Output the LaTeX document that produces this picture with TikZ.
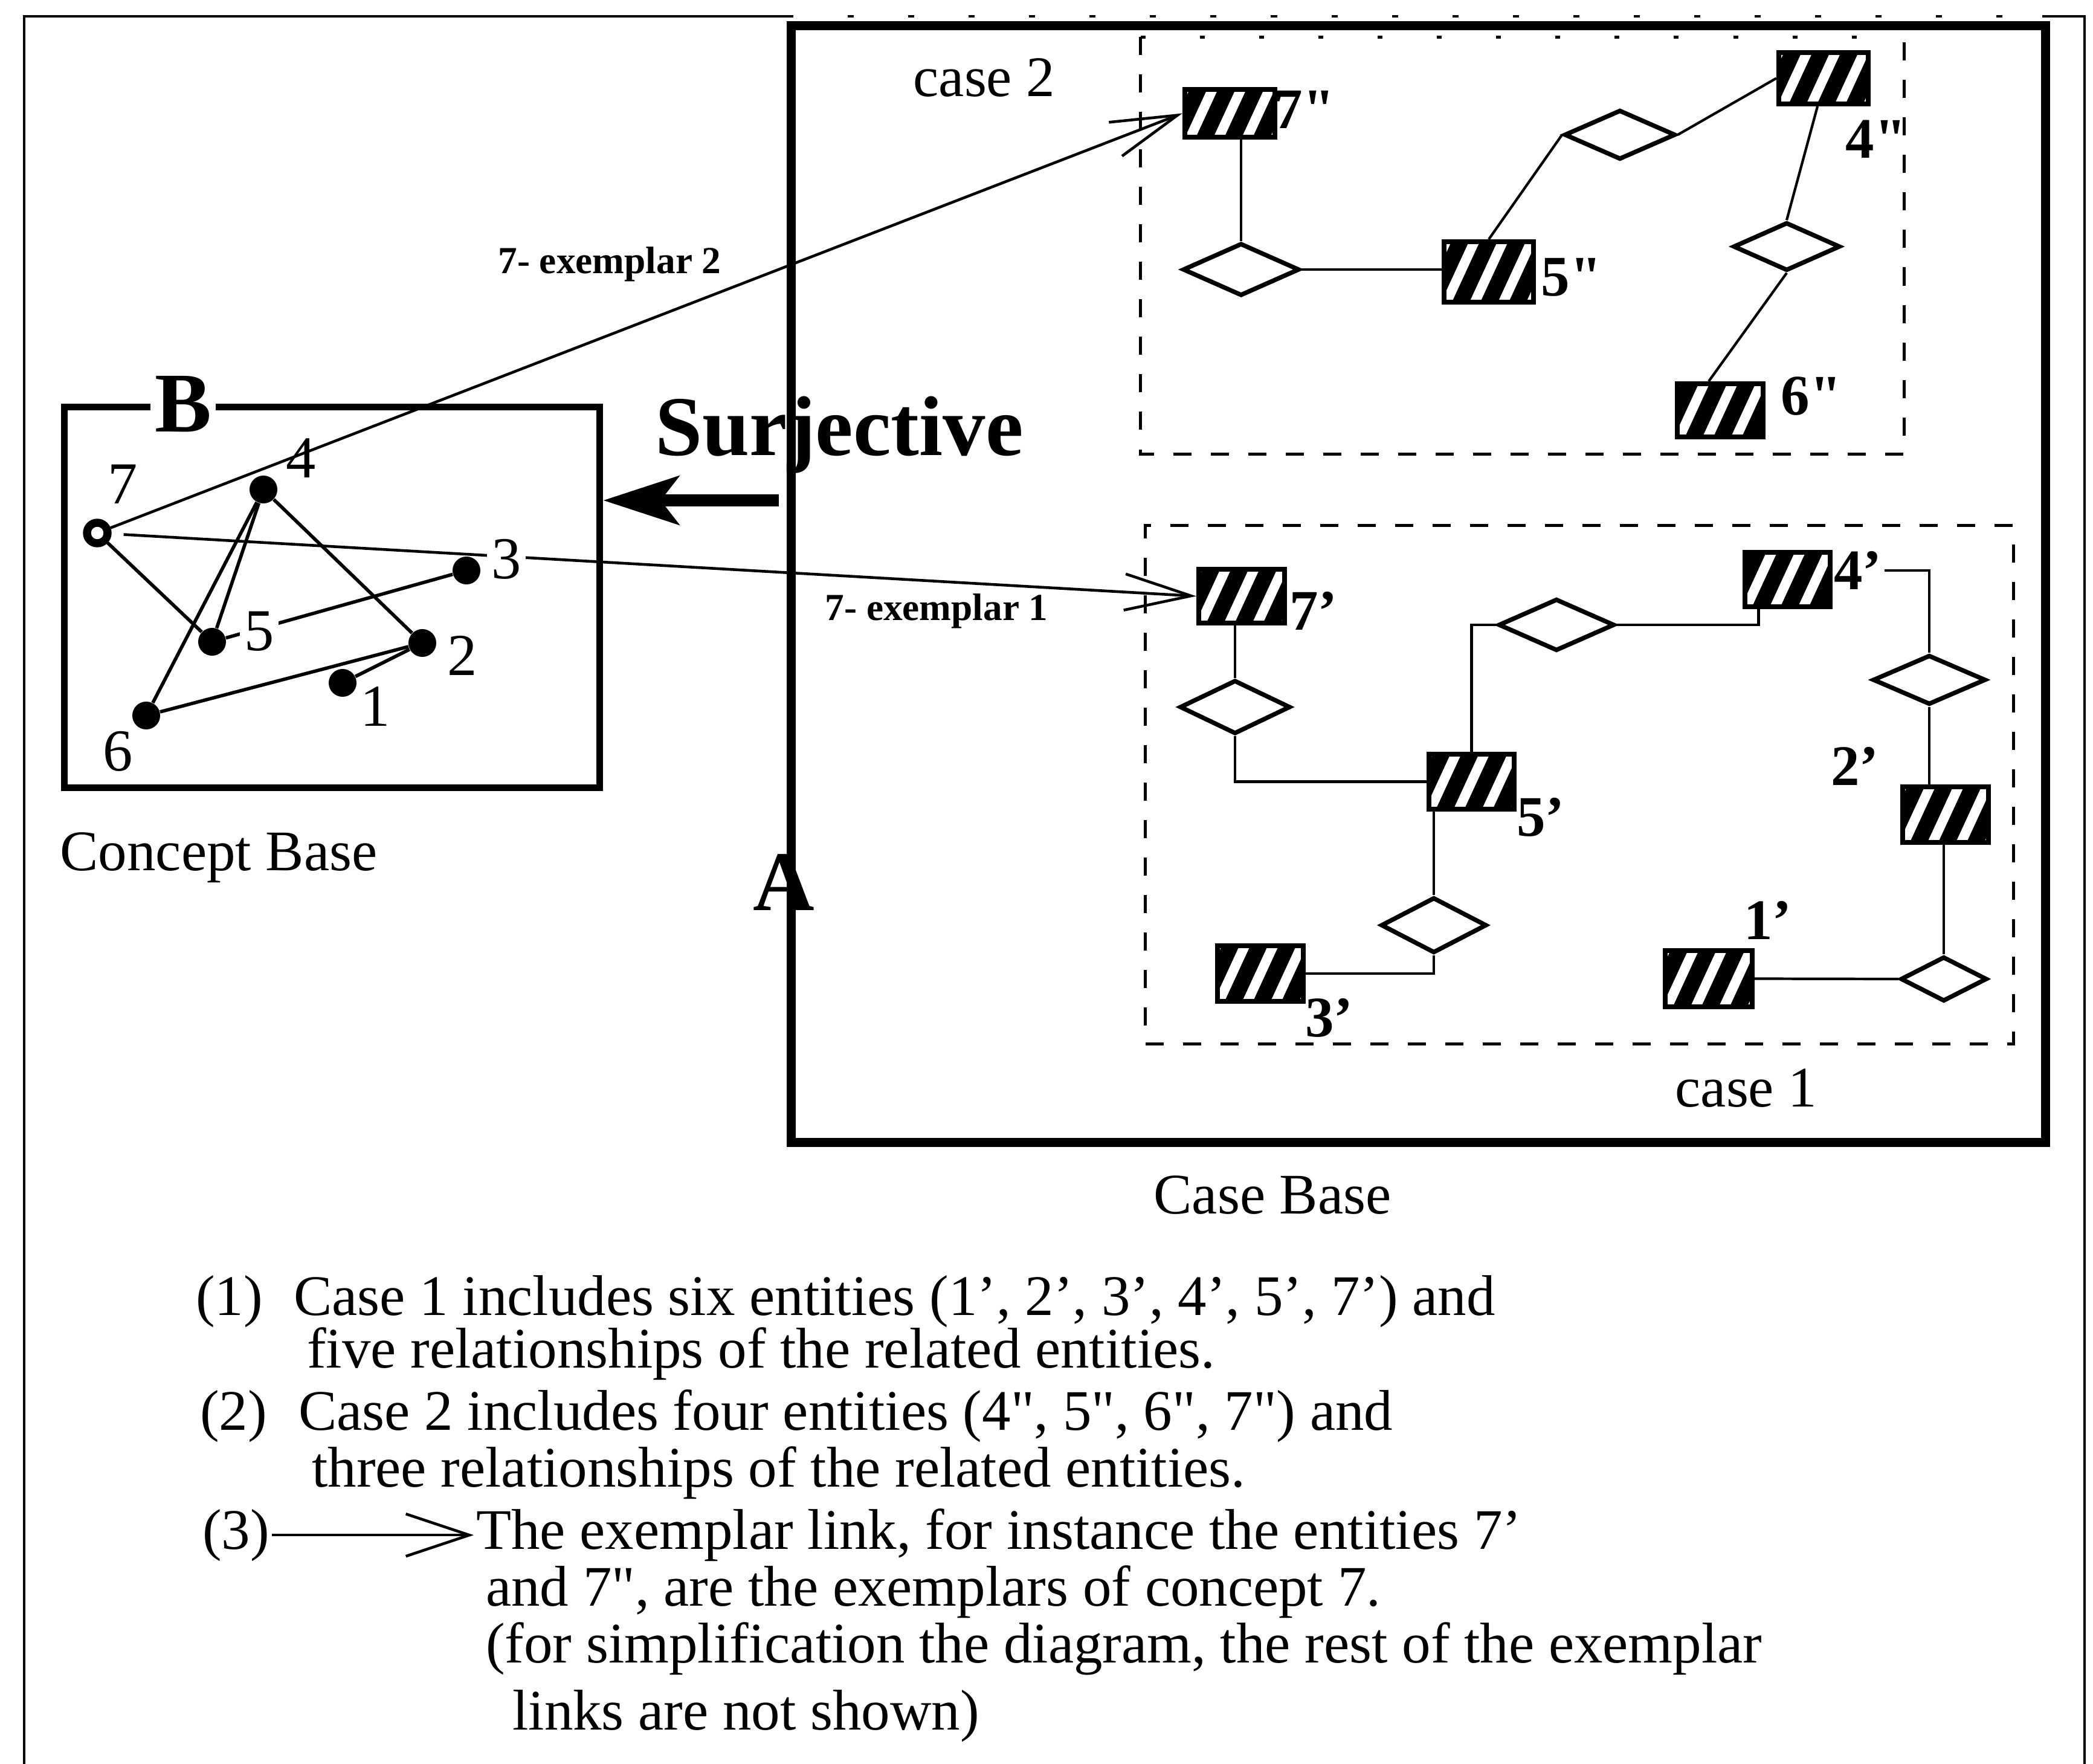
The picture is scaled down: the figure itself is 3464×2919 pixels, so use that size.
\documentclass[tikz,border=0pt]{standalone}
\usepackage{fontspec}
\setmainfont{Liberation Serif}
\usetikzlibrary{arrows.meta,shapes.geometric,calc}
\newcommand{\dq}{\textquotedbl}
\begin{document}
\begin{tikzpicture}[x=0.01cm,y=-0.01cm,
  lab/.style={font=\fontsize{27}{32}\selectfont, inner sep=1pt},
  elab/.style={font=\bfseries\fontsize{27}{32}\selectfont, inner sep=1pt},
  clab/.style={font=\fontsize{28}{33}\selectfont, inner sep=1pt},
  biglab/.style={font=\bfseries\fontsize{40}{48}\selectfont, inner sep=1pt},
  smalllab/.style={font=\bfseries\fontsize{18}{21}\selectfont, inner sep=1pt},
  ent/.style={draw=black, fill=black, line width=2.3pt, inner sep=0pt,
    path picture={\foreach \k in {-2,-1,0,1,2}{\draw[white,line width=4.6pt]
      ($(path picture bounding box.center)+(\k*0.47cm-0.3cm,-0.65cm)$) -- ++(0.6cm,1.3cm);}}},
  rel/.style={shape=diamond, draw=black, fill=white, line width=2.1pt, inner sep=0pt},
  dot/.style={circle, fill=black, inner sep=0pt, minimum size=0.46cm},
  cline/.style={line width=1.2pt},
  gline/.style={line width=1.6pt},
  exarrow/.style={line width=1.3pt, -{Straight Barb[length=1.1cm 0 0, width=0.6cm 0 0]}},
  legarrow/.style={line width=1.3pt, -{Straight Barb[length=1.05cm 0 0, width=0.7cm 0 0]}},
  surjarrow/.style={line width=5.7pt, -{Stealth[length=1.25cm 0 0, width=0.8cm 0 0, inset=0.3cm 0 0]}},
  caseframe/.style={line width=1.4pt, dash pattern=on 0.3cm off 0.32cm},
]
\useasboundingbox (0,0) rectangle (3464,2919);
% outer frame
\draw[line width=1.14pt] (40,2919) -- (40,27) -- (1303,27);
\draw[line width=1.14pt, dash pattern=on 0.1cm off 0.9cm] (1303,27) -- (3380,27);
\draw[line width=1.14pt] (3380,27) -- (3450,27) -- (3450,2919);

% case base
\node[draw, line width=4.3pt, minimum width=20.75cm, minimum height=18.47cm, inner sep=0pt] (cbase) at (2347.5,966.5) {};
\node[lab, anchor=base] (cbaselab) at (2106,2008) {Case Base};

% case 2 frame
\node[minimum width=12.61cm, minimum height=6.89cm, inner sep=0pt] (case2box) at (2519.5,406.5) {};
\draw[caseframe] (case2box.north west) -- (case2box.south west) -- (case2box.south east) -- (case2box.north east);
\draw[line width=1.4pt, dash pattern=on 0.08cm off 0.9cm] (case2box.north west) -- (case2box.north east);
\node[lab, anchor=base] (case2lab) at (1629,160) {case 2};

% case 1 frame
\node[draw, caseframe, minimum width=14.36cm, minimum height=8.57cm, inner sep=0pt] (case1box) at (2614,1298.5) {};
\node[lab, anchor=base] (case1lab) at (2890,1831) {case 1};

% case 2 entities and relationships
\node[ent, minimum width=1.49cm, minimum height=0.79cm] (b7pp) at (2035.5,187.5) {};
\node[ent, minimum width=1.48cm, minimum height=1.0cm] (b5pp) at (2464,450) {};
\node[ent, minimum width=1.48cm, minimum height=0.85cm] (b4pp) at (3018,129.5) {};
\node[ent, minimum width=1.42cm, minimum height=0.88cm] (b6pp) at (2847,679) {};
\node[rel, minimum width=1.93cm, minimum height=0.87cm] (d1) at (2054,446) {};
\node[rel, minimum width=1.84cm, minimum height=0.82cm] (d2) at (2681,223) {};
\node[rel, minimum width=1.77cm, minimum height=0.80cm] (d3) at (2957,408) {};
\node[elab] (l7pp) at (2159,181) {7\dq};
\node[elab] (l5pp) at (2601,459) {5\dq};
\node[elab] (l4pp) at (3105,230) {4\dq};
\node[elab] (l6pp) at (2998,656) {6\dq};

\draw[cline] (d1.north |- b7pp.south) -- (d1.north);
\draw[cline] (d1.east) -- (d1.east -| b5pp.west);
\draw[cline] (b5pp.north) -- (d2.west);
\draw[cline] (d2.east) -- (b4pp.west);
\draw[cline] ([xshift=-0.1cm]b4pp.south) -- (d3.north);
\draw[cline] (d3.south) -- ([xshift=-0.19cm]b6pp.north);

% case 1 entities and relationships
\node[ent, minimum width=1.42cm, minimum height=0.89cm] (b7p) at (2055,986.5) {};
\node[ent, minimum width=1.41cm, minimum height=0.91cm] (b5p) at (2435.5,1293.5) {};
\node[ent, minimum width=1.41cm, minimum height=0.90cm] (b4p) at (2958.5,959) {};
\node[ent, minimum width=1.42cm, minimum height=0.92cm] (b2p) at (3220,1348) {};
\node[ent, minimum width=1.44cm, minimum height=0.93cm] (b1p) at (2828,1619.5) {};
\node[ent, minimum width=1.42cm, minimum height=0.92cm] (b3p) at (2086,1611) {};
\node[rel, minimum width=1.83cm, minimum height=0.89cm] (e1) at (2044,1170) {};
\node[rel, minimum width=1.92cm, minimum height=0.86cm] (e2) at (2576,1034) {};
\node[rel, minimum width=1.87cm, minimum height=0.82cm] (e3) at (3193,1125) {};
\node[rel, minimum width=1.43cm, minimum height=0.74cm] (e4) at (3217,1620) {};
\node[rel, minimum width=1.75cm, minimum height=0.92cm] (e5) at (2373,1531) {};
\node[elab] (l7p) at (2174,1011) {7'};
\node[elab] (l5p) at (2550,1352) {5'};
\node[elab] (l4p) at (3075,944) {4'};
\node[elab] (l2p) at (3070,1268) {2'};
\node[elab] (l1p) at (2926,1523) {1'};
\node[elab] (l3p) at (2200,1684) {3'};

\draw[cline] (e1.north |- b7p.south) -- (e1.north);
\draw[cline] (e1.south) |- (b5p.west);
\draw[cline] (b5p.north) |- (e2.west);
\draw[cline] (e2.east) -| ([xshift=-0.48cm]b4p.south);
\draw[cline] (l4p.east) -| (e3.north);
\draw[cline] (e3.south) -- (e3.south |- b2p.north);
\draw[cline] (e4.north |- b2p.south) -- (e4.north);
\draw[cline] (e4.west) -- (b1p.east);
\draw[cline] (e5.north |- b5p.south) -- (e5.north);
\draw[cline] (e5.south) |- (b3p.east);

% concept base
\node[draw, line width=3.1pt, minimum width=8.86cm, minimum height=6.29cm, inner sep=0pt] (cb) at (549.5,988.5) {};
\node[biglab, fill=white, anchor=base, inner sep=2pt] (blab) at (303,715) {B};
\node[lab, anchor=base] (cblab) at (362,1440) {Concept Base};

\node[dot, draw=black, fill=white, line width=3.8pt, minimum size=0.34cm] (c7) at (161,882) {};
\node[dot] (c4) at (436,810) {};
\node[dot] (c3) at (772,944) {};
\node[dot] (c5) at (351,1062) {};
\node[dot] (c2) at (699,1064) {};
\node[dot] (c1) at (567,1130) {};
\node[dot] (c6) at (242,1184) {};

\draw[gline] (c4) -- (c6);
\draw[gline] (c4) -- (c5);
\draw[gline] (c4) -- (c2);
\draw[gline] (c7) -- (c5);
\draw[gline] (c5) -- (c3);
\draw[gline] (c6) -- (c2);
\draw[gline] (c1) -- (c2);

% exemplar links
\draw[exarrow, shorten <=0.2cm] (c7) -- (b7p.west);
\draw[exarrow] (c7) -- (b7pp.west);
\node[smalllab, anchor=base] (ex2) at (1009,453) {7- exemplar 2};
\node[smalllab, anchor=base] (ex1) at (1550,1026) {7- exemplar 1};

\node[clab] (l7) at (203,801) {7};
\node[clab] (l4) at (498,758) {4};
\node[clab, fill=white, inner sep=2pt] (l3) at (838,925) {3};
\node[clab, fill=white, inner sep=2pt] (l5) at (429,1045) {5};
\node[clab] (l2) at (765,1085) {2};
\node[clab] (l1) at (621,1169) {1};
\node[clab] (l6) at (195,1243) {6};

% surjective
\node[biglab, anchor=base west] (surj) at (1080,754) {Surjective};
\coordinate (sj) at (1289,828);
\draw[surjarrow] (sj) -- (sj -| cb.east);
\node[biglab, anchor=base] (alab) at (1297,1506) {A};

% legend
\node[lab, anchor=base west] (n1) at (320,2176) {(1)};
\node[lab, anchor=base west] (t1) at (482,2176) {Case 1 includes six entities (1', 2', 3', 4', 5', 7') and};
\node[lab, anchor=base west] (t1b) at (504,2263) {five relationships of the related entities.};
\node[lab, anchor=base west] (n2) at (327,2366) {(2)};
\node[lab, anchor=base west] (t2) at (490,2366) {Case 2 includes four entities (4\dq, 5\dq, 6\dq, 7\dq) and};
\node[lab, anchor=base west] (t2b) at (512,2460) {three relationships of the related entities.};
\node[lab, anchor=base west] (n3) at (331,2563) {(3)};
\node[lab, anchor=base west] (t3) at (784,2563) {The exemplar link, for instance the entities 7'};
\node[lab, anchor=base west] (t3b) at (800,2657) {and 7\dq, are the exemplars of concept 7.};
\node[lab, anchor=base west] (t3c) at (800,2751) {(for simplification the diagram, the rest of the exemplar};
\node[lab, anchor=base west] (t3d) at (844,2862) {links are not shown)};
\draw[legarrow] (n3.east) -- (n3.east -| t3.west);
\end{tikzpicture}
\end{document}
